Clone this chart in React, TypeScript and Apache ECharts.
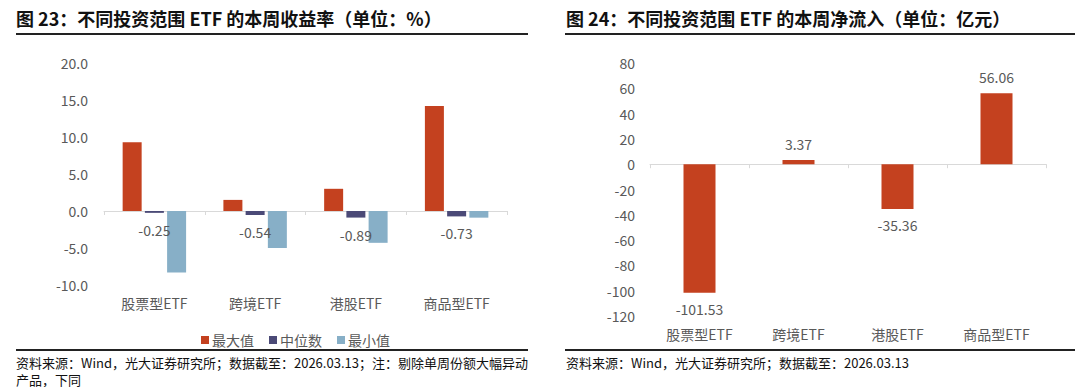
import React, { useEffect, useRef } from "react";
import * as echarts from "echarts";

const categories = ["股票型ETF", "跨境ETF", "港股ETF", "商品型ETF"];
const legendNames = ["最大值", "中位数", "最小值"];
const maxVals = [9.3, 1.5, 3.0, 14.2];
const medVals = [-0.25, -0.54, -0.89, -0.73];
const minVals = [-8.3, -5.0, -4.3, -0.9];
const flowVals = [-101.53, 3.37, -35.36, 56.06];

const title1 = "图 23：不同投资范围 ETF 的本周收益率（单位：%）";
const title2 = "图 24：不同投资范围 ETF 的本周净流入（单位：亿元）";
const source1a = "资料来源：Wind，光大证券研究所；数据截至：2026.03.13；注：剔除单周份额大幅异动";
const source1b = "产品，下同";
const source2 = "资料来源：Wind，光大证券研究所；数据截至：2026.03.13";

const FONT = "'Noto Sans CJK SC', 'Noto Sans', sans-serif";
const GRAY = "#595959";
const AXIS = "#D9D9D9";
const RED = "#C4411F";
const NAVY = "#4B4A77";
const BLUE = "#87AFC7";

export default function App() {
  const ref = useRef<HTMLDivElement>(null);
  useEffect(() => {
    if (!ref.current) return;
    const chart = echarts.init(ref.current, undefined, { renderer: "svg" });
    const zeroAxis = (gridIndex: number) => ({
      type: "category",
      gridIndex,
      data: categories,
      axisLine: { show: true, onZero: true, lineStyle: { color: AXIS, width: 1 } },
      axisTick: { show: true, length: 4, lineStyle: { color: AXIS } },
      axisLabel: { show: false },
    });
    const labelAxis = (gridIndex: number) => ({
      type: "category",
      gridIndex,
      data: categories,
      position: "bottom",
      axisLine: { show: false, onZero: false },
      axisTick: { show: false },
      axisLabel: { show: true, margin: 11, fontSize: 14, color: GRAY, fontFamily: FONT },
    });
    const txt = (x: number, y: number, text: string, size: number, weight: string, color: string) => ({
      type: "text",
      x,
      y,
      style: { text, fontSize: size, fontWeight: weight, fill: color, fontFamily: FONT, textVerticalAlign: "middle" },
    });
    const rule = (x1: number, x2: number, y: number) => ({
      type: "line",
      shape: { x1, y1: y, x2, y2: y },
      style: { stroke: "#222", lineWidth: 2 },
    });
    chart.setOption({
      animation: false,
      textStyle: { fontFamily: FONT },
      grid: [
        { left: 104, top: 63, width: 403, height: 222 },
        { left: 650, top: 63, width: 396, height: 253 },
      ],
      xAxis: [zeroAxis(0), labelAxis(0), zeroAxis(1), labelAxis(1)],
      yAxis: [
        {
          type: "value",
          gridIndex: 0,
          min: -10,
          max: 20,
          interval: 5,
          splitLine: { show: false },
          axisLine: { show: false },
          axisTick: { show: false },
          axisLabel: { margin: 16, fontSize: 14, color: GRAY, fontFamily: FONT, formatter: (v: number) => v.toFixed(1) },
        },
        {
          type: "value",
          gridIndex: 1,
          min: -120,
          max: 80,
          interval: 20,
          splitLine: { show: false },
          axisLine: { show: false },
          axisTick: { show: false },
          axisLabel: { margin: 15, fontSize: 14, color: GRAY, fontFamily: FONT },
        },
      ],
      legend: {
        data: legendNames,
        left: 196,
        top: 328,
        icon: "rect",
        itemWidth: 8,
        itemHeight: 8,
        itemGap: 15,
        textStyle: { fontSize: 14, color: GRAY, fontFamily: FONT, padding: [0, 0, 0, -2] },
      },
      series: [
        {
          name: legendNames[0],
          type: "bar",
          xAxisIndex: 0,
          yAxisIndex: 0,
          data: maxVals,
          barWidth: 19,
          barGap: "17%",
          itemStyle: { color: RED },
        },
        {
          name: legendNames[1],
          type: "bar",
          xAxisIndex: 0,
          yAxisIndex: 0,
          data: medVals,
          barWidth: 19,
          barGap: "17%",
          itemStyle: { color: NAVY },
          label: {
            show: true,
            position: "bottom",
            distance: 10,
            fontSize: 14,
            color: GRAY,
            fontFamily: FONT,
            formatter: (p: any) => Number(p.value).toFixed(2),
          },
          z: 3,
        },
        {
          name: legendNames[2],
          type: "bar",
          xAxisIndex: 0,
          yAxisIndex: 0,
          data: minVals,
          barWidth: 19,
          barGap: "17%",
          itemStyle: { color: BLUE },
          z: 2,
        },
        {
          name: "净流入",
          type: "bar",
          xAxisIndex: 2,
          yAxisIndex: 1,
          barWidth: 32,
          data: flowVals.map((v) => ({ value: v, label: { position: v >= 0 ? "top" : "bottom" } })),
          itemStyle: { color: RED },
          label: {
            show: true,
            distance: 9,
            fontSize: 14,
            color: GRAY,
            fontFamily: FONT,
            formatter: (p: any) => Number(p.value).toFixed(2),
          },
        },
      ],
      graphic: [
        txt(16, 18, title1, 18, "bold", "#111"),
        txt(566, 18, title2, 18, "bold", "#111"),
        rule(16, 528, 34),
        rule(565, 1075, 34),
        rule(16, 528, 350),
        rule(565, 1075, 350),
        txt(16, 362, source1a, 13, "normal", "#111"),
        txt(16, 379, source1b, 13, "normal", "#111"),
        txt(566, 362, source2, 13, "normal", "#111"),
      ],
    });
    return () => chart.dispose();
  }, []);
  return <div ref={ref} style={{ position: "absolute", left: 0, top: 0, width: 1080, height: 387, background: "#fff" }} />;
}
